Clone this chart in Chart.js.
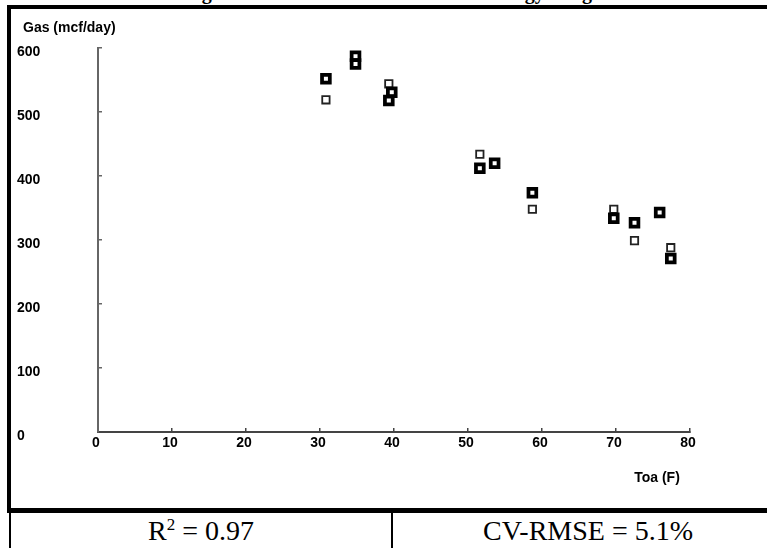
<!DOCTYPE html>
<html>
<head>
<meta charset="utf-8">
<script src="https://cdn.jsdelivr.net/npm/chart.js@4.4.1/dist/chart.umd.min.js"></script>
<style>
  html, body { margin: 0; padding: 0; background: #fff; }
  body { width: 767px; height: 548px; position: relative; overflow: hidden; }
  #title { position: absolute; left: 184px; top: -18px; font: bold 20px/20px 'Liberation Serif', 'Times New Roman', serif; white-space: nowrap; }
  #frame { position: absolute; left: 7px; top: 5px; width: 900px; height: 508px; box-sizing: border-box;
           border-top: 4px solid #000; border-left: 4px solid #000; border-bottom: 5px solid #000; }
  .rule { position: absolute; top: 513px; width: 2px; height: 40px; background: #000; }
  .stat { position: absolute; top: 517px; font: 28px/28px 'Liberation Serif', 'Times New Roman', serif; text-align: center; white-space: nowrap; }
  .stat .sup { font-size: 17px; position: relative; top: -10px; }
  #wrap { position: absolute; left: 0; top: 0; width: 767px; height: 548px; }
</style>
</head>
<body>
<div id="title">Figure 5: Actual and Modeled Gas Energy Usage</div>
<div id="frame"></div>
<div class="rule" style="left:9px"></div>
<div class="rule" style="left:391px"></div>
<div class="stat" style="left:11px;width:380px">R<span class="sup">2</span> = 0.97</div>
<div class="stat" style="left:393px;width:390px">CV-RMSE = 5.1%</div>
<div id="wrap"><canvas id="energySig"></canvas></div>
<script>
// outdoor air temp (F) for each period, and the two gas series
const toa = [30.8, 34.8, 34.8, 39.7, 39.3, 51.6, 53.6, 58.7, 69.7, 72.5, 75.9, 77.4];
const gasModel = [552, 587, 575, 531, 518, 412, 420, 374, 334, 327, 343, 271];
const gasActual = [519, 585, 577, 529, 544, 434, 420, 348, 348, 299, 342, 288];
const xTicks = [0, 10, 20, 30, 40, 50, 60, 70, 80];
const yTicks = [0, 100, 200, 300, 400, 500, 600];
const yTitle = 'Gas (mcf/day)';
const xTitle = 'Toa (F)';

const labelFont = { family: "'Liberation Sans', Arial, sans-serif", size: 14, weight: 'bold' };
Chart.defaults.font = labelFont;
Chart.defaults.color = '#000';

// axis titles sit at the corners like the old plot, not along the axes
const axisTitles = {
    id: 'axisTitles',
    afterDraw(chart) {
        const { ctx, chartArea } = chart;
        ctx.save();
        ctx.font = "bold 14px 'Liberation Sans', Arial, sans-serif";
        ctx.fillStyle = '#000';
        ctx.textBaseline = 'middle';
        ctx.textAlign = 'left';
        ctx.fillText(yTitle, chartArea.left - 75, chartArea.top - 20);
        ctx.textAlign = 'center';
        ctx.fillText(xTitle, chartArea.right - 33, chartArea.bottom + 46);
        ctx.restore();
    }
};

const ctx = document.getElementById('energySig').getContext('2d');
new Chart(ctx, {
    type: 'scatter',
    data: {
        datasets: [{
            label: 'Model',
            data: toa.map((t, i) => ({ x: t, y: gasModel[i] })),
            pointStyle: 'rect',
            pointRadius: 5.5,
            pointBorderWidth: 3.75,
            pointBorderColor: '#000',
            pointBackgroundColor: '#fff',
            order: 0
        }, {
            label: 'Actual',
            data: toa.map((t, i) => ({ x: t, y: gasActual[i] })),
            pointStyle: 'rect',
            pointRadius: 5.2,
            pointBorderWidth: 1.8,
            pointBorderColor: '#222',
            pointBackgroundColor: '#fff',
            order: 1
        }]
    },
    options: {
        responsive: true,
        maintainAspectRatio: false,
        animation: false,
        events: [],
        layout: { padding: { left: 17, right: 77, top: 48, bottom: 56 } },
        scales: {
            x: {
                type: 'linear',
                min: 0,
                max: 80,
                afterBuildTicks: s => { s.ticks = xTicks.map(v => ({ value: v })); },
                afterFit: s => { s.height = 60; },
                border: { color: '#444', width: 2 },
                grid: { drawOnChartArea: false, drawTicks: true, tickLength: -4, color: '#444', lineWidth: 1.5 },
                ticks: { autoSkip: false, maxRotation: 0, padding: 7, labelOffset: -2 }
            },
            y: {
                type: 'linear',
                min: 0,
                max: 600,
                afterBuildTicks: s => { s.ticks = yTicks.map(v => ({ value: v })); },
                afterFit: s => { s.width = 81; },
                border: { color: '#666', width: 2 },
                grid: { drawOnChartArea: false, drawTicks: true, tickLength: -4, color: '#666', lineWidth: 1.5 },
                ticks: { autoSkip: false, crossAlign: 'far', labelOffset: 4 }
            }
        },
        plugins: {
            legend: { display: false },
            tooltip: { enabled: false }
        }
    },
    plugins: [axisTitles]
});
</script>
</body>
</html>
